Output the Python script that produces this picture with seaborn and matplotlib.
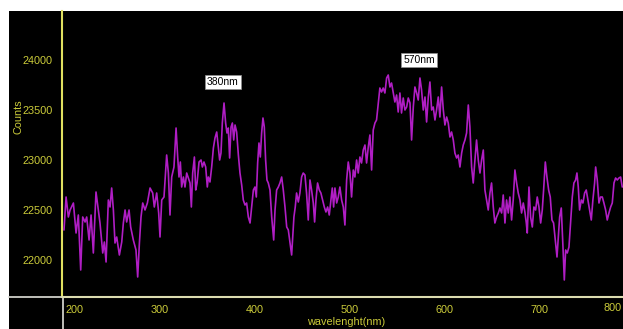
import matplotlib
matplotlib.use("Agg")
import matplotlib.pyplot as plt
from matplotlib.patches import Rectangle
from matplotlib.lines import Line2D
from matplotlib.ticker import MultipleLocator
import seaborn as sns

# spectrum, in five stretches
wl_a = [198.9, 201.1, 203.5, 205.3, 208.8, 211.6, 214.0, 216.5, 218.6, 221.1,
        222.8, 225.3, 227.4, 229.8, 232.6, 235.1, 236.8, 239.7, 241.4, 243.2,
        245.6, 247.4, 249.1, 250.9, 252.6, 254.4, 257.2, 259.7, 261.4, 263.2,
        264.9, 267.4, 269.1, 271.9, 274.7, 276.5, 278.3, 280.0, 281.8, 284.2,
        286.7, 289.5, 292.3, 294.0, 296.5, 298.6, 300.0, 301.8, 304.2, 307.0,
        308.8, 310.5, 312.3, 314.7]
counts_a = [22300, 22630, 22430, 22500, 22570, 22270, 22450, 21900, 22430, 22380,
            22430, 22200, 22450, 22070, 22680, 22500, 22370, 22070, 22180, 21980,
            22600, 22530, 22720, 22500, 22170, 22230, 22050, 22180, 22370, 22500,
            22380, 22500, 22330, 22200, 22100, 21830, 22170, 22430, 22570, 22500,
            22570, 22720, 22670, 22530, 22670, 22470, 22230, 22600, 22630, 23050,
            22870, 22450, 22830, 22930]

wl_b = [316.9, 318.6, 320.0, 321.4, 322.8, 324.6, 326.3, 328.1, 329.8, 331.6,
        333.0, 334.4, 336.2, 337.6, 339.0, 341.1, 343.2, 344.6, 346.3, 348.1,
        349.8, 350.9, 352.6, 354.4, 356.2, 357.9, 359.7, 361.4, 362.8, 364.2,
        365.6, 367.4, 369.1, 370.5, 371.9, 373.3, 374.8, 376.2, 377.6, 379.0,
        380.7, 382.5, 384.2, 386.0, 387.7, 389.5, 391.2, 393.0, 394.8, 396.5,
        398.3, 400.0, 401.4, 402.8, 404.2, 405.6, 407.0, 408.4, 409.8, 411.2,
        412.6, 414.0, 415.8, 417.6, 419.7, 421.1, 422.8, 424.6, 426.3, 428.1,
        429.8, 431.6, 433.4, 435.1, 436.9, 438.6]
counts_b = [23320, 23030, 22830, 22980, 22730, 22830, 22730, 22870, 22820, 22770,
            22530, 22870, 23030, 22700, 22770, 22980, 23000, 22930, 22980, 22930,
            22730, 22830, 22780, 22930, 23120, 23220, 23280, 23130, 23000, 23070,
            23370, 23570, 23370, 23270, 23320, 23020, 23330, 23370, 23200, 23350,
            23280, 23050, 22870, 22750, 22600, 22550, 22570, 22430, 22370, 22530,
            22700, 22730, 22630, 22970, 23170, 23030, 23270, 23420, 23330, 23000,
            22800, 22770, 22700, 22430, 22200, 22500, 22700, 22730, 22770, 22830,
            22700, 22530, 22330, 22300, 22170, 22050]

wl_c = [441.0, 442.4, 443.8, 445.6, 447.3, 449.1, 450.8, 452.6, 454.3, 456.1,
        457.9, 459.6, 461.4, 462.8, 464.2, 465.9, 467.7, 469.4, 471.2, 473.0,
        474.7, 476.5, 478.2, 479.6, 481.4, 482.8, 484.2, 486.0, 487.7, 489.4,
        491.2, 493.0, 494.7, 496.5, 498.2, 500.0, 501.7, 503.5, 505.2, 507.0,
        508.7, 510.5, 512.2, 514.0, 515.8, 517.5, 519.3, 521.0, 522.8, 524.5,
        526.3, 528.0, 529.8, 531.5, 533.3, 535.0, 536.8, 538.6, 540.3, 542.1,
        543.8, 545.6, 547.3, 549.1, 550.8, 552.6, 554.3, 556.1]
counts_c = [22430, 22530, 22670, 22580, 22670, 22830, 22870, 22850, 22670, 22400,
            22800, 22700, 22570, 22380, 22600, 22770, 22700, 22670, 22600, 22530,
            22480, 22530, 22450, 22570, 22720, 22530, 22720, 22570, 22630, 22730,
            22600, 22530, 22350, 22800, 22980, 22870, 22630, 22900, 22830, 23000,
            22870, 23030, 22970, 23100, 23150, 22970, 23130, 23250, 22900, 23300,
            23370, 23400, 23570, 23720, 23680, 23720, 23670, 23820, 23850, 23730,
            23770, 23670, 23580, 23650, 23480, 23670, 23470, 23620]

wl_d = [557.9, 559.7, 561.4, 563.2, 564.9, 566.7, 568.4, 570.2, 571.9, 573.7,
        575.4, 577.2, 579.0, 580.7, 582.5, 584.2, 586.0, 587.7, 589.5, 591.2,
        593.0, 594.7, 596.5, 598.3, 600.0, 601.8, 603.5, 605.3, 607.0, 608.8,
        610.5, 612.3, 614.0, 615.8, 617.6, 619.3, 621.1, 622.8, 624.6, 626.3,
        628.1, 629.8, 631.6, 633.3, 635.1, 636.9, 638.6, 640.4, 642.1, 643.9,
        645.6, 647.4, 649.1, 650.9, 652.6, 654.4, 656.2, 657.9, 659.7, 661.4,
        663.2, 664.9, 666.7, 668.4, 670.2, 671.9, 673.7, 675.5, 677.2, 679.0,
        680.7, 682.5, 684.2]
counts_d = [23500, 23530, 23620, 23570, 23200, 23530, 23730, 23670, 23600, 23820,
            23700, 23500, 23630, 23380, 23630, 23780, 23500, 23530, 23400, 23500,
            23630, 23430, 23730, 23500, 23350, 23430, 23370, 23230, 23280, 23200,
            23070, 23020, 23050, 22930, 23070, 23150, 23200, 23270, 23550, 23330,
            22930, 22770, 23000, 23200, 23000, 22870, 23000, 23100, 22700, 22600,
            22500, 22670, 22770, 22530, 22370, 22430, 22470, 22520, 22470, 22650,
            22370, 22600, 22470, 22630, 22400, 22600, 22900, 22770, 22670, 22600,
            22470, 22570, 22480]

wl_e = [685.7, 686.7, 688.5, 690.2, 692.0, 693.7, 695.5, 697.2, 699.0, 700.8,
        702.5, 703.9, 705.7, 707.4, 709.2, 710.9, 712.7, 714.4, 716.2, 718.0,
        719.4, 720.8, 722.5, 724.3, 725.7, 727.1, 728.8, 730.6, 732.3, 734.1,
        735.8, 737.6, 739.0, 740.4, 741.8, 743.6, 745.3, 747.1, 748.8, 750.6,
        752.3, 754.1, 755.8, 757.6, 758.7, 760.4, 762.2, 763.9, 765.7, 767.4,
        769.2, 770.9, 772.7, 774.5, 776.2, 778.0, 779.7, 781.5, 783.2, 785.0,
        786.7]
counts_e = [22370, 22270, 22730, 22430, 22330, 22530, 22500, 22630, 22530, 22370,
            22500, 22700, 22980, 22830, 22700, 22630, 22400, 22370, 22200, 22030,
            22230, 22430, 22520, 22130, 21800, 22100, 22070, 22130, 22370, 22630,
            22770, 22800, 22870, 22730, 22500, 22600, 22570, 22670, 22700, 22600,
            22500, 22400, 22600, 22770, 22930, 22800, 22570, 22630, 22630, 22570,
            22500, 22400, 22470, 22530, 22570, 22770, 22820, 22800, 22820, 22830,
            22730]

wavelength_nm = wl_a + wl_b + wl_c + wl_d + wl_e
counts = counts_a + counts_b + counts_c + counts_d + counts_e

x_ticks = [200, 300, 400, 500, 600, 700]
y_ticks = [22000, 22500, 23000, 23500, 24000]
peak_labels = ["380nm", "570nm"]
peak_label_x = [366, 573]
peak_label_y = [23780, 24000]

TEXT_YELLOW = "#cccc3a"
AXIS_YELLOW = "#e0e060"
MAGENTA = "#b01ec4"
SEP_GRAY = "#cfcfc8"

sns.set_style("dark")
plt.rcParams["font.family"] = ["Liberation Sans", "DejaVu Sans"]

W, H = 623, 329
fig = plt.figure(figsize=(W / 100, H / 100), dpi=100, facecolor="white")

# black instrument panel behind everything
fig.patches.append(Rectangle((9 / W, 0), 1 - 9 / W, (H - 11) / H,
                             transform=fig.transFigure, fc="black", ec="none", zorder=-10))
# panel separators
fig.lines.append(Line2D([9 / W, 62 / W], [1 - 297 / H] * 2, transform=fig.transFigure,
                        color=SEP_GRAY, lw=1.3, zorder=-5))
fig.lines.append(Line2D([63 / W] * 2, [0, 1 - 297 / H], transform=fig.transFigure,
                        color=SEP_GRAY, lw=1.3, zorder=-5))

ax = fig.add_axes([62 / W, (H - 297) / H, (W - 62) / W, (297 - 11) / H])
ax.set_facecolor("black")

sns.lineplot(x=wavelength_nm, y=counts, ax=ax, color=MAGENTA, linewidth=1.2, sort=False)

ax.set_xlim(196.8, 787.5)
ax.set_ylim(21630, 24490)
ax.set_xticks(x_ticks)
ax.set_yticks(y_ticks)
ax.xaxis.set_minor_locator(MultipleLocator(20))
ax.yaxis.set_minor_locator(MultipleLocator(100))
ax.grid(False)

for side in ["top", "right"]:
    ax.spines[side].set_visible(False)
ax.spines["left"].set_color(AXIS_YELLOW)
ax.spines["left"].set_linewidth(1.5)
ax.spines["bottom"].set_color("#dcdcb0")
ax.spines["bottom"].set_linewidth(1.5)

ax.tick_params(axis="both", which="major", direction="out", length=4, width=1,
               colors=AXIS_YELLOW, labelcolor=TEXT_YELLOW, labelsize=7.8)
ax.tick_params(axis="both", which="minor", direction="out", length=2, width=1,
               colors=AXIS_YELLOW)
ax.tick_params(axis="x", which="major", length=3, pad=2.5)
ax.tick_params(axis="y", which="major", pad=3)
ax.get_xticklabels()[0].set_horizontalalignment("left")
ax.set_xlabel("")
ax.set_ylabel("")

# the 800 label sits squeezed at the right edge
fig.text(622 / W, 1 - 303 / H, "800", color=TEXT_YELLOW, fontsize=7.8, ha="right", va="top")

fig.text(18 / W, 1 - 117 / H, "Counts", rotation=90, color=TEXT_YELLOW, fontsize=7.8,
         ha="center", va="center")
fig.text(346 / W, 1 - 317 / H, "wavelenght(nm)", color=TEXT_YELLOW, fontsize=7.8,
         ha="center", va="top")

for label, px, py in zip(peak_labels, peak_label_x, peak_label_y):
    ax.text(px, py, label, color="black", fontsize=7.5, ha="center", va="center",
            bbox=dict(boxstyle="square,pad=0.2", fc="white", ec="#909090", lw=0.5))

fig.savefig("out.png", dpi=100, facecolor=fig.get_facecolor())
